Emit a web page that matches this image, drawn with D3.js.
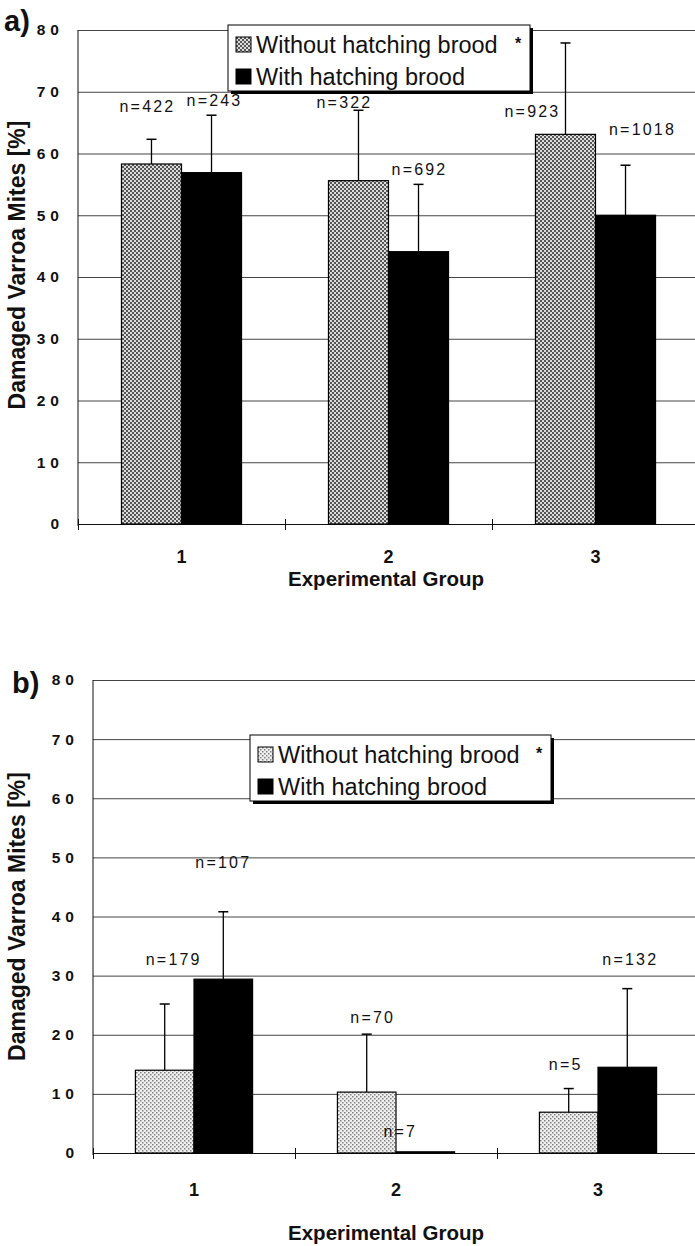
<!DOCTYPE html>
<html>
<head>
<meta charset="utf-8">
<script src="https://cdn.jsdelivr.net/npm/d3@7"></script>
<style>
  body { margin: 0; background: #fff; }
  svg { display: block; font-family: "Liberation Sans", Arial, Helvetica, sans-serif; }
</style>
</head>
<body>
<div id="chart"></div>
<script>
// Data
var groups = ["1", "2", "3"];
var seriesNames = ["Without hatching brood", "With hatching brood"];
var yTicks = [0, 10, 20, 30, 40, 50, 60, 70, 80];

// panel a
var aWithout = [58.3, 55.6, 63.1];
var aWithoutSd = [4.0, 11.4, 14.8];
var aWith = [56.9, 44.1, 50.0];
var aWithSd = [9.3, 10.9, 8.1];
var aWithoutN = [422, 322, 923];
var aWithN = [243, 692, 1018];

// panel b
var bWithout = [14.0, 10.3, 6.9];
var bWithoutSd = [11.2, 9.8, 4.0];
var bWith = [29.4, 0.2, 14.5];
var bWithSd = [11.4, 0, 13.3];
var bWithoutN = [179, 70, 5];
var bWithN = [107, 7, 132];

var svgWidth = 695;
var svgHeight = 1246;

var svg = d3.select("#chart")
  .append("svg")
  .attr("width", svgWidth)
  .attr("height", svgHeight);

// fill patterns for the "without" bars
var defs = svg.append("defs");
var patA = defs.append("pattern")
  .attr("id", "dotsA")
  .attr("patternUnits", "userSpaceOnUse")
  .attr("width", 4).attr("height", 4);
patA.append("rect").attr("width", 4).attr("height", 4).attr("fill", "#dcdcdc");
patA.append("rect").attr("x", 0).attr("y", 0).attr("width", 2).attr("height", 2).attr("fill", "#555");
patA.append("rect").attr("x", 2).attr("y", 2).attr("width", 2).attr("height", 2).attr("fill", "#555");

var patB = defs.append("pattern")
  .attr("id", "dotsB")
  .attr("patternUnits", "userSpaceOnUse")
  .attr("width", 4).attr("height", 4);
patB.append("rect").attr("width", 4).attr("height", 4).attr("fill", "#f0f0f0");
patB.append("rect").attr("x", 0).attr("y", 0).attr("width", 1.5).attr("height", 1.5).attr("fill", "#808080");
patB.append("rect").attr("x", 2).attr("y", 2).attr("width", 1.5).attr("height", 1.5).attr("fill", "#808080");

function drawPanel(p) {
  var g = svg.append("g");

  var x0 = d3.scaleBand()
    .domain(groups)
    .range(p.xRange)
    .padding(0);

  // bars take the middle 58% of each group band
  var bw = x0.bandwidth();
  var x1 = d3.scaleBand()
    .domain(seriesNames)
    .range([bw * 0.21, bw * 0.79])
    .padding(0);

  var xEdge = d3.scaleLinear()
    .domain([0, groups.length])
    .range(p.xRange);

  var y = d3.scaleLinear()
    .domain([0, 80])
    .range(p.yRange);

  // gridlines + tick labels
  var leftAxis = d3.axisLeft(y)
    .tickValues(yTicks)
    .tickSize(-(svgWidth - p.xRange[0]))
    .tickPadding(14);
  var yg = g.append("g")
    .attr("transform", `translate(${p.xRange[0]},0)`)
    .call(leftAxis);
  yg.select(".domain").remove();
  yg.selectAll(".tick line")
    .attr("stroke", "#444")
    .attr("stroke-width", 1);
  yg.selectAll(".tick text")
    .attr("fill", "#111")
    .attr("font-size", "15.5px")
    .attr("font-weight", "bold")
    .attr("letter-spacing", "5px");

  // y axis line
  g.append("line")
    .attr("x1", p.xRange[0]).attr("x2", p.xRange[0])
    .attr("y1", y(80)).attr("y2", y(0) + 2)
    .attr("stroke", "#111");

  // x axis with ticks at band edges
  var edgeAxis = d3.axisBottom(xEdge)
    .tickValues(d3.range(groups.length + 1))
    .tickSizeInner(6)
    .tickSizeOuter(0)
    .tickFormat("");
  var xg = g.append("g")
    .attr("transform", `translate(0,${y(0)})`)
    .call(edgeAxis);
  xg.select(".domain").attr("stroke", "#111");
  xg.selectAll(".tick line")
    .attr("y1", -5)
    .attr("stroke", "#111");

  var labelAxis = d3.axisBottom(x0).tickSize(0).tickPadding(p.catPad);
  var lg = g.append("g")
    .attr("transform", `translate(0,${y(0)})`)
    .call(labelAxis);
  lg.select(".domain").remove();
  lg.selectAll(".tick text")
    .attr("fill", "#111")
    .attr("font-size", "18px")
    .attr("font-weight", "bold");

  // bars
  var rows = groups.map(function(grp, i) {
    return [
      { grp: grp, s: seriesNames[0], v: p.without[i], sd: p.withoutSd[i], n: p.withoutN[i], lab: p.withoutLab[i] },
      { grp: grp, s: seriesNames[1], v: p.with[i], sd: p.withSd[i], n: p.withN[i], lab: p.withLab[i] }
    ];
  });
  var flat = rows.flat();

  g.selectAll(".bar")
    .data(flat)
    .enter()
    .append("rect")
    .attr("x", d => x0(d.grp) + x1(d.s))
    .attr("y", d => y(d.v))
    .attr("width", x1.bandwidth())
    .attr("height", d => y(0) - y(d.v))
    .attr("fill", d => d.s === seriesNames[0] ? `url(#${p.pattern})` : "#000")
    .attr("stroke", "#000")
    .attr("stroke-width", 1.2);

  // error bars (upper only)
  var eb = flat.filter(d => d.sd > 0);
  g.selectAll(".err")
    .data(eb)
    .enter()
    .append("line")
    .attr("x1", d => x0(d.grp) + x1(d.s) + x1.bandwidth() / 2)
    .attr("x2", d => x0(d.grp) + x1(d.s) + x1.bandwidth() / 2)
    .attr("y1", d => y(d.v))
    .attr("y2", d => y(d.v + d.sd))
    .attr("stroke", "#000")
    .attr("stroke-width", 1.3);
  g.selectAll(".cap")
    .data(eb)
    .enter()
    .append("line")
    .attr("x1", d => x0(d.grp) + x1(d.s) + x1.bandwidth() / 2 - 5)
    .attr("x2", d => x0(d.grp) + x1(d.s) + x1.bandwidth() / 2 + 5)
    .attr("y1", d => y(d.v + d.sd))
    .attr("y2", d => y(d.v + d.sd))
    .attr("stroke", "#000")
    .attr("stroke-width", 1.5);

  // n labels
  g.selectAll(".nlab")
    .data(flat)
    .enter()
    .append("text")
    .attr("x", d => x0(d.grp) + x1(d.s) + x1.bandwidth() / 2 + d.lab[0])
    .attr("y", d => y(d.lab[1]))
    .attr("text-anchor", "middle")
    .attr("font-size", "16px")
    .attr("letter-spacing", "2.2px")
    .attr("fill", "#111")
    .text(d => "n=" + d.n);

  // legend
  var L = p.legend;
  var leg = g.append("g").attr("transform", `translate(${L.x},${L.y})`);
  leg.append("rect")
    .attr("x", 3).attr("y", 3)
    .attr("width", L.w).attr("height", L.h)
    .attr("fill", "#000");
  leg.append("rect")
    .attr("width", L.w).attr("height", L.h)
    .attr("fill", "#fff")
    .attr("stroke", "#000")
    .attr("stroke-width", 1);
  seriesNames.forEach(function(name, i) {
    var ry = 12 + i * 32;
    leg.append("rect")
      .attr("x", 8).attr("y", ry)
      .attr("width", 15).attr("height", 15)
      .attr("fill", i === 0 ? `url(#${p.pattern})` : "#000")
      .attr("stroke", "#000")
      .attr("stroke-width", 1);
    leg.append("text")
      .attr("x", 28).attr("y", ry + 16)
      .attr("font-size", "23.5px")
      .attr("fill", "#111")
      .text(name);
  });
  leg.append("text")
    .attr("x", L.w - 15).attr("y", 24)
    .attr("font-size", "16px")
    .attr("font-weight", "bold")
    .attr("fill", "#111")
    .text("*");

  // panel letter
  g.append("text")
    .attr("x", p.letter[0]).attr("y", p.letter[1])
    .attr("font-size", "29px")
    .attr("font-weight", "bold")
    .attr("fill", "#111")
    .text(p.name);

  // axis titles
  g.append("text")
    .attr("transform", `translate(25, ${(y(0) + y(80)) / 2 + p.yTitleShift}) rotate(-90)`)
    .attr("text-anchor", "middle")
    .attr("font-size", "23px")
    .attr("font-weight", "bold")
    .attr("fill", "#111")
    .text("Damaged Varroa Mites [%]");

  g.append("text")
    .attr("x", 386).attr("y", p.xTitleY)
    .attr("text-anchor", "middle")
    .attr("font-size", "20.5px")
    .attr("font-weight", "bold")
    .attr("fill", "#111")
    .text("Experimental Group");
}

drawPanel({
  name: "a)",
  without: aWithout, withoutSd: aWithoutSd, withoutN: aWithoutN,
  with: aWith, withSd: aWithSd, withN: aWithN,
  // label offsets: [dx px, y value]
  withoutLab: [[-4, 66.7], [-14, 67.4], [-33, 65.9]],
  withLab: [[3, 67.7], [1, 56.5], [17, 63.0]],
  xRange: [78, 699],
  yRange: [524, 30],
  pattern: "dotsA",
  catPad: 26,
  legend: { x: 228, y: 25, w: 302, h: 66 },
  letter: [4, 31],
  yTitleShift: -12,
  xTitleY: 586
});

drawPanel({
  name: "b)",
  without: bWithout, withoutSd: bWithoutSd, withoutN: bWithoutN,
  with: bWith, withSd: bWithSd, withN: bWithN,
  withoutLab: [[9, 31.8], [6, 22.0], [-3, 14.0]],
  withLab: [[0, 48.2], [-25, 2.7], [3, 31.8]],
  xRange: [93, 699],
  yRange: [1153, 680],
  pattern: "dotsB",
  catPad: 30,
  legend: { x: 250, y: 735, w: 301, h: 66 },
  letter: [12, 693],
  yTitleShift: 0,
  xTitleY: 1240
});
</script>
</body>
</html>
